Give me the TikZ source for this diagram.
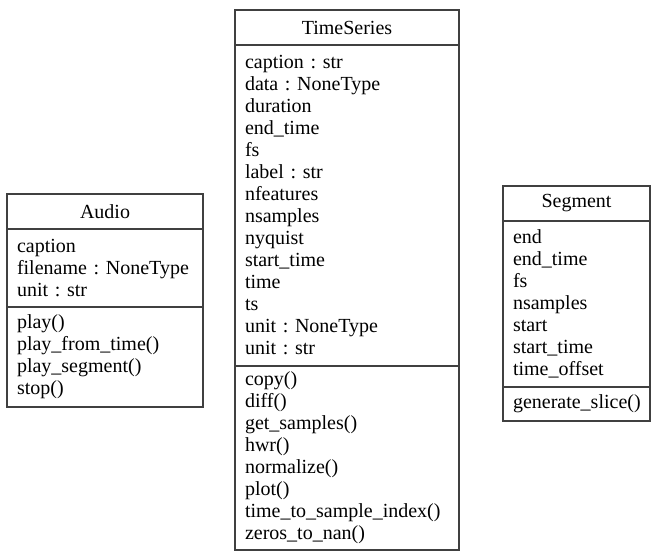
\documentclass[tikz,border=0pt]{standalone}
\usepackage{fontspec}
\setmainfont{Liberation Serif}
\usetikzlibrary{positioning}

\tikzset{
  classbox/.style={draw=black!75, line width=1.2pt, inner xsep=10pt, inner ysep=0pt,
    outer sep=0pt, anchor=north west, font=\fontsize{20}{22}\selectfont\frenchspacing},
  classname/.style={classbox, align=center, minimum height=35pt},
  classpart/.style={classbox, align=left},
}

\begin{document}
\begin{tikzpicture}
      \useasboundingbox (0,0) rectangle (651pt,-551pt);
      \node (Audio) [classname, text width=176pt] at (7pt,-194pt) {Audio};
      \node (AudioAttr) [classpart, text width=176pt, minimum height=78pt, below=0pt of Audio]
        {caption\\filename : NoneType\\unit : str};
      \node (AudioOps) [classpart, text width=176pt, minimum height=100pt, below=0pt of AudioAttr]
        {play()\\play\_from\_time()\\play\_segment()\\stop()};
      \node (TS) [classname, text width=204pt] at (235pt,-10pt) {TimeSeries};
      \node (TSAttr) [classpart, text width=204pt, minimum height=321pt, below=0pt of TS]
        {caption : str\\data : NoneType\\duration\\end\_time\\fs\\label : str\\nfeatures\\nsamples\\nyquist\\start\_time\\time\\ts\\unit : NoneType\\unit : str};
      \node (TSOps) [classpart, text width=204pt, minimum height=184pt, below=0pt of TSAttr]
        {copy()\\diff()\\get\_samples()\\hwr()\\normalize()\\plot()\\time\_to\_sample\_index()\\zeros\_to\_nan()};
      \node (Seg) [classname, text width=127pt] at (503pt,-186pt) {Segment};
      \node (SegAttr) [classpart, text width=127pt, minimum height=166pt, below=0pt of Seg]
        {end\\end\_time\\fs\\nsamples\\start\\start\_time\\time\_offset};
      \node (SegOps) [classpart, text width=127pt, minimum height=34pt, below=0pt of SegAttr]
        {generate\_slice()};
\end{tikzpicture}
\end{document}
